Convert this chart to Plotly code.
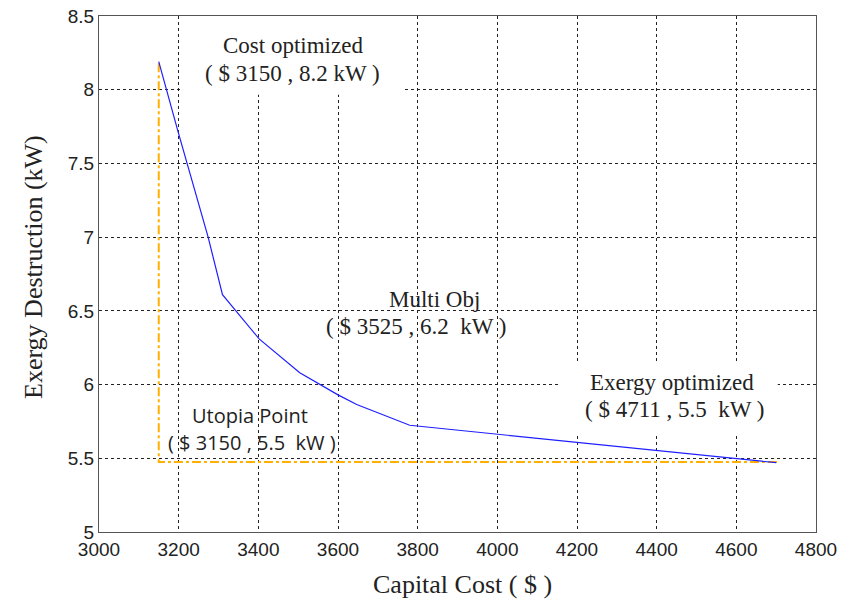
import plotly.graph_objects as go

# Pareto front (capital cost $, exergy destruction kW)
cost = [3150, 3200, 3274, 3310, 3402, 3504, 3600, 3647, 3780, 4400, 4700]
exergy = [8.19, 7.70, 7.00, 6.61, 6.31, 6.08, 5.93, 5.865, 5.724, 5.552, 5.47]

# Utopia reference lines
utopia_x = [3150, 3150, 4709]
utopia_y = [8.18, 5.475, 5.475]

x_ticks = [3000, 3200, 3400, 3600, 3800, 4000, 4200, 4400, 4600, 4800]
y_ticks = [5, 5.5, 6, 6.5, 7, 7.5, 8, 8.5]

serif = "Liberation Serif, Times New Roman, serif"
sans = "Liberation Sans, Arial, sans-serif"
osans = "Open Sans, sans-serif"

# target plot box in page pixels (page body has an 8px margin)
PL, PR, PT, PB = 99, 816, 16, 532
OFF = 8

fig = go.Figure()
fig.add_trace(go.Scatter(x=utopia_x, y=utopia_y, mode="lines",
                         line=dict(color="#FFB000", width=2, dash="dashdot"),
                         showlegend=False, hoverinfo="skip"))
fig.add_trace(go.Scatter(x=cost, y=exergy, mode="lines",
                         line=dict(color="#1f1fff", width=1.2),
                         showlegend=False))

axis_common = dict(showgrid=True, gridcolor="#222", gridwidth=1, griddash="3px,3px",
                   showline=True, linecolor="#555", linewidth=1, mirror=True,
                   zeroline=False, ticks="", ticklabeloverflow="allow", automargin=False,
                   tickfont=dict(family=sans, size=19, color="#222"))

fig.update_xaxes(range=[3000, 4800], tickvals=x_ticks, ticktext=[str(v) for v in x_ticks], **axis_common)
fig.update_yaxes(range=[5, 8.5], tickvals=y_ticks, ticktext=[("%g" % v) for v in y_ticks], **axis_common)

# white boxes behind some annotations (above gridlines)
fig.add_shape(type="rect", xref="x", yref="y", x0=3211, x1=3763, y0=7.965, y1=8.5,
              fillcolor="white", line=dict(width=0), layer="between")
fig.add_shape(type="rect", xref="x", yref="y", x0=4157, x1=4704, y0=5.67, y1=6.15,
              fillcolor="white", line=dict(width=0), layer="between")

def ann(text, x, y, font, size):
    fig.add_annotation(text=text, x=x, y=y, xref="x", yref="y", showarrow=False,
                       font=dict(family=font, size=size, color="#222"), xanchor="center", yanchor="middle")

ann("Cost optimized", 3487, 8.303, serif, 23)
ann("( $ 3150 , 8.2 kW )", 3487, 8.112, serif, 23)
ann("Multi Obj", 3843, 6.575, serif, 23)
ann("( $ 3525 , 6.2  kW )", 3795, 6.391, serif, 23)
ann("Utopia Point", 3379, 5.793, osans, 20)
ann("( $ 3150 , 5.5  kW )", 3384, 5.609, osans, 20)
ann("Exergy optimized", 4438, 6.017, serif, 23)
ann("( $ 4711 , 5.5  kW )", 4445, 5.833, serif, 23)

# axis titles placed in page pixels
fig.add_annotation(text="Capital Cost ( $ )", xref="paper", yref="paper",
                   x=(462 - PL) / (PR - PL), y=-(584 - PB) / (PB - PT),
                   showarrow=False, font=dict(family=serif, size=26, color="#222"),
                   xanchor="center", yanchor="middle")
fig.add_annotation(text="Exergy Destruction (kW)", xref="paper", yref="paper",
                   x=-(PL - 33) / (PR - PL), y=(PB - 267) / (PB - PT),
                   showarrow=False, textangle=-90, font=dict(family=serif, size=26, color="#222"),
                   xanchor="center", yanchor="middle")

fig.update_layout(width=852, height=600, paper_bgcolor="white", plot_bgcolor="white",
                  margin=dict(l=PL - OFF, r=852 - PR + OFF, t=PT - OFF, b=600 - PB + OFF,
                              autoexpand=False),
                  showlegend=False)

fig.write_html("out.html")
